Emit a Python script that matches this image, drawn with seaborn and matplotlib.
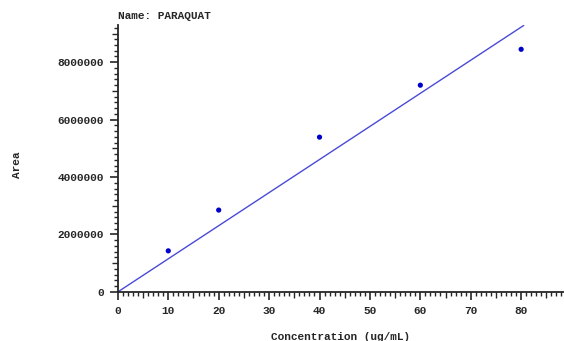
import numpy as np
import pandas as pd
import matplotlib
matplotlib.use("Agg")
import matplotlib.pyplot as plt
from matplotlib.ticker import MultipleLocator
import seaborn as sns

# calibration points
conc = [10, 20, 40, 60, 80]
area = [1430000, 2850000, 5390000, 7200000, 8450000]
compound = "PARAQUAT"

# fit through the origin
x = np.array(conc, dtype=float)
y = np.array(area, dtype=float)
slope = (x * y).sum() / (x * x).sum()
fit_x = [0, 80.5]
fit_y = [slope * v for v in fit_x]

df = pd.DataFrame({"conc": conc, "area": area})
fit = pd.DataFrame({"conc": fit_x, "area": fit_y})

sns.set_style("ticks")
plt.rcParams['font.family'] = ['Liberation Mono', 'DejaVu Sans']

fig = plt.figure(figsize=(5.64, 3.41), dpi=100)
ax = fig.add_axes([0.209, 0.144, 0.791, 0.783])

sns.lineplot(data=fit, x="conc", y="area", ax=ax, color="#4a4ad8", linewidth=1.0)
sns.scatterplot(data=df, x="conc", y="area", ax=ax, color="#0000cc", s=14,
                edgecolor="none")

ax.set_xlim(0, 88.5)
ax.set_ylim(0, 9.3e6)
ax.xaxis.set_major_locator(MultipleLocator(10))
ax.xaxis.set_minor_locator(MultipleLocator(1))
ax.yaxis.set_major_locator(MultipleLocator(2000000))
ax.yaxis.set_minor_locator(MultipleLocator(200000))
ax.ticklabel_format(axis="y", style="plain", useOffset=False)

ax.tick_params(which="major", length=6, width=1.2, labelsize=8, direction="out", pad=4)
ax.tick_params(which="minor", length=3, width=1.0, direction="out")
for lab in ax.get_xticklabels() + ax.get_yticklabels():
    lab.set_fontweight("bold")

# longer minor ticks at the half steps (every 5 units / every 1000000)
for t in ax.xaxis.get_minor_ticks():
    if abs(t.get_loc() % 5) < 1e-6 or abs(t.get_loc() % 5 - 5) < 1e-6:
        t.tick1line.set_markersize(4.5)
for t in ax.yaxis.get_minor_ticks():
    if abs(t.get_loc() % 1000000) < 1 or abs(t.get_loc() % 1000000 - 1000000) < 1:
        t.tick1line.set_markersize(4.5)

ax.spines["top"].set_visible(False)
ax.spines["right"].set_visible(False)
ax.spines["left"].set_linewidth(1.3)
ax.spines["bottom"].set_linewidth(1.3)

ax.set_xlabel("Concentration (ug/mL)", fontsize=8, fontweight="bold", labelpad=12)
ax.set_ylabel("Area", fontsize=8, fontweight="bold")
ax.yaxis.set_label_coords(-0.215, 0.476)
ax.set_title("Name: " + compound, fontsize=8, fontweight="bold", loc="left", pad=4)

fig.savefig("out.png", dpi=100)
